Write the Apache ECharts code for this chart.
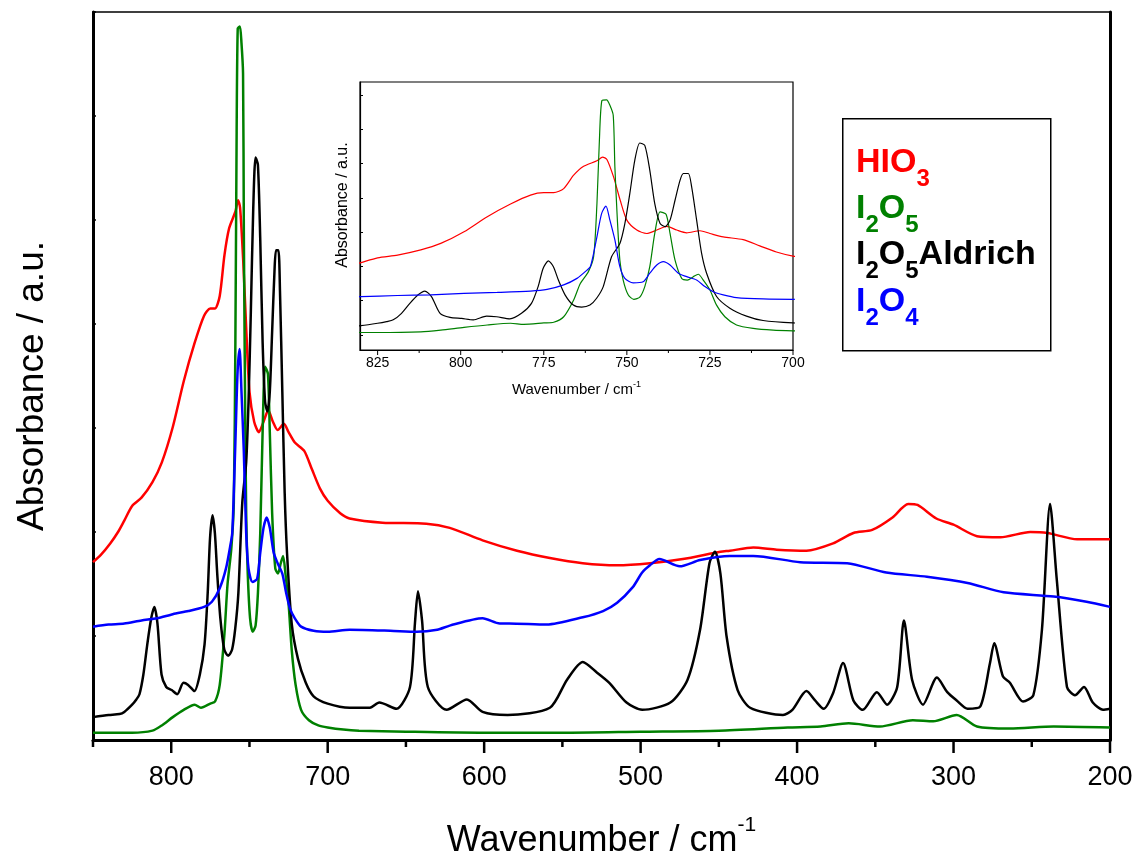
<!DOCTYPE html>
<html>
<head>
<meta charset="utf-8">
<title>IR spectra of iodine oxides</title>
<script src="https://cdn.jsdelivr.net/npm/echarts@6/dist/echarts.min.js"></script>
<style>
  html, body { margin: 0; padding: 0; background: #fff; }
  #spectra { width: 1138px; height: 861px; background: #fff; }
</style>
</head>
<body>
<div id="spectra"></div>
<script>
// wavenumber (cm-1) / absorbance (a.u.), one pair of arrays per sample
var hioWn = [850,845,839,834,830,825,819,812,806,799,792,785,779,775,772,769,766,763,759,757.3,756,754,752,750,747,744,741,738,735,732,728,725,721,715,710,705,700,692,686,665,637,622,601,579,558,537,515,494,473,449,443,428,413,394,377,364,352,339,329,323,311,300,285,270,251,240,221,200];
var hioAbs = [1.71,1.78,1.89,2.00,2.11,2.25,2.33,2.48,2.67,3.01,3.45,3.82,4.08,4.15,4.15,4.27,4.66,4.92,5.08,5.19,5.12,4.61,3.93,3.35,3.06,2.96,3.06,3.17,3.06,2.98,3.04,2.96,2.86,2.78,2.60,2.42,2.30,2.18,2.13,2.09,2.08,2.04,1.92,1.82,1.75,1.70,1.68,1.70,1.74,1.81,1.82,1.85,1.83,1.82,1.89,1.99,2.02,2.14,2.27,2.26,2.13,2.07,1.96,1.95,2.00,1.99,1.93,1.93];

var i2o5Wn = [850,830,825,812,806,799,792,785,781,775,772,769,766,764,761.6,760,759,758.3,757.5,756.1,755.1,754.1,753.6,752.9,752.1,751.1,749.6,747.9,746.1,744.6,743.1,741.6,740,738.2,737,735.5,733.5,731.8,730,728.5,727,725,723,720.5,717,712,706,700,690,680,650,600,550,500,450,406,385,367,347,326,313,298,285,264,236,200];
var i2o5Abs = [0.07,0.07,0.07,0.09,0.14,0.22,0.29,0.34,0.31,0.35,0.37,0.53,1.02,1.50,1.84,2.28,3.83,5.58,6.84,6.86,6.70,6.41,4.90,3.45,2.18,1.60,1.17,1.04,1.10,1.41,1.99,2.96,3.59,3.52,2.96,2.18,1.65,1.60,1.70,1.77,1.60,1.31,0.87,0.53,0.29,0.19,0.14,0.12,0.10,0.09,0.08,0.07,0.07,0.08,0.09,0.12,0.13,0.16,0.13,0.19,0.18,0.24,0.13,0.11,0.13,0.12];

var aldWn = [850,840,833,830,825,822.3,820.3,817.8,815.3,812.8,810.8,808.8,806.2,803.2,799.7,796.2,792.2,789.2,785.2,781.7,778.7,776.7,775.2,773.6,772.1,770.6,768.6,766.1,763.6,761.1,759.1,757.1,754.6,752.1,750.6,749.1,747.6,746.1,744.6,743.1,741.6,740,738.5,737,735.5,734,733,731.5,730.5,729,727.5,726,723,719,714,709,700,686,673,667,656,647.4,644.2,642.3,639.7,636,624,611,601,585,558,547,537,528,520,509,499,481,470,462,456,452.5,449,445,438,430,409,403,394,388.5,383,377,370.6,364,358,349,342.5,336,331.7,326.5,319.5,310.6,304,298,291,283,276.7,274,268.4,264,255.6,249,243.5,238.3,234,227.5,222.4,216.6,211,204.5,200];
var aldAbs = [0.22,0.24,0.25,0.27,0.34,0.39,0.44,0.63,0.92,1.17,1.28,1.12,0.63,0.51,0.48,0.44,0.55,0.53,0.47,0.63,0.92,1.41,1.94,2.16,1.99,1.60,1.17,0.87,0.81,0.87,1.07,1.41,2.28,2.67,3.25,4.13,5.10,5.60,5.53,4.81,3.83,3.25,3.16,3.35,3.93,4.51,4.71,4.71,4.32,3.35,2.38,1.80,1.12,0.78,0.55,0.42,0.35,0.31,0.31,0.36,0.30,0.51,1.13,1.43,1.15,0.51,0.29,0.39,0.27,0.24,0.31,0.58,0.75,0.65,0.55,0.36,0.29,0.36,0.58,1.06,1.70,1.81,1.60,0.99,0.48,0.31,0.24,0.29,0.47,0.38,0.30,0.45,0.74,0.38,0.29,0.46,0.34,0.51,1.15,0.58,0.34,0.60,0.46,0.38,0.30,0.32,0.74,0.93,0.61,0.55,0.37,0.43,1.06,2.27,1.54,0.51,0.43,0.51,0.36,0.29,0.30];

var i2o4Wn = [850,840,830,819,809,799,789,779,774,769,765,762,761,760,759,757.6,756.3,755.1,753.6,752.1,750.6,748.1,745.1,743.1,741,739,737,734.5,732,729,726.5,724,721,717,709,700,686,660,643,630,622,601,590,584,560,537,524,515,505,499,494,488,475,462,443,428,398,368,343,317,291,268,236,215,200];
var i2o4Abs = [1.09,1.11,1.12,1.15,1.17,1.21,1.24,1.28,1.33,1.46,1.65,1.89,1.99,2.38,2.86,3.54,3.76,3.35,2.77,1.99,1.65,1.52,1.55,1.80,2.04,2.14,2.04,1.80,1.70,1.60,1.41,1.26,1.17,1.09,1.05,1.04,1.06,1.05,1.04,1.06,1.10,1.17,1.12,1.12,1.11,1.18,1.24,1.32,1.47,1.61,1.68,1.74,1.67,1.73,1.77,1.77,1.71,1.70,1.61,1.57,1.51,1.42,1.38,1.33,1.28];

// tick positions
var mainMajor = [200,300,400,500,600,700,800];
var mainMinor = [250,350,450,550,650,750,850];
var insetMajor = [700,725,750,775,800,825];
var insetMinor = [712.5,737.5,762.5,787.5,812.5];
var insetYTicks = [0,1,2,3,4,5,6,7];

var FONT = '"Liberation Sans", Arial, sans-serif';
var MAIN_YMIN = 0, MAIN_YMAX = 7;
var INSET_YMIN = -0.44, INSET_YMAX = 7.38;

function pairs(wn, abs) {
    var out = [];
    for (var i = 0; i < wn.length; i++) {
        out.push([wn[i], abs[i]]);
    }
    return out;
}

var samples = [
    {name: 'HIO3', wn: hioWn, abs: hioAbs, color: '#ff0000'},
    {name: 'I2O5', wn: i2o5Wn, abs: i2o5Abs, color: '#008000'},
    {name: 'I2O5 Aldrich', wn: aldWn, abs: aldAbs, color: '#000000'},
    {name: 'I2O4', wn: i2o4Wn, abs: i2o4Abs, color: '#0000ff'}
];

var series = [];
samples.forEach(function (s) {
    var d = pairs(s.wn, s.abs);
    // main plot
    series.push({
        name: s.name, type: 'line', xAxisIndex: 0, yAxisIndex: 0,
        data: d, symbol: 'none', smooth: 0.25, silent: true, clip: true,
        lineStyle: {color: s.color, width: 2.5}
    });
    // inset, same data zoomed on 830-700
    series.push({
        name: s.name + ' inset', type: 'line', xAxisIndex: 1, yAxisIndex: 2,
        data: d, symbol: 'none', smooth: 0.25, silent: true, clip: true,
        lineStyle: {color: s.color, width: 1.2}
    });
});

// x-axis tick marks hanging below the axis line, placed through the axis scale;
// own layer so nothing can paint over them
function tickMarks(xi, yi, values, yBase, len, width) {
    return {
        type: 'custom', xAxisIndex: xi, yAxisIndex: yi, silent: true, clip: false,
        zlevel: 1, z: 10,
        data: values.map(function (v) { return [v, yBase]; }),
        renderItem: function (params, api) {
            var p = api.coord([api.value(0), api.value(1)]);
            return {
                type: 'line',
                shape: {x1: p[0], y1: p[1], x2: p[0], y2: p[1] + len},
                style: {stroke: '#000', lineWidth: width}
            };
        }
    };
}
series.push(tickMarks(0, 0, mainMajor, MAIN_YMIN, 13, 2.5));
series.push(tickMarks(0, 0, mainMinor, MAIN_YMIN, 7, 2.5));
series.push(tickMarks(1, 2, insetMajor, INSET_YMIN, 5, 1));
series.push(tickMarks(1, 2, insetMinor, INSET_YMIN, 3, 1));

var nameRich = function (big, small, pad) {
    return {
        m: {fontFamily: FONT, fontSize: big, lineHeight: big, color: '#000', verticalAlign: 'top', padding: [pad, 0, 0, 0]},
        s: {fontFamily: FONT, fontSize: small, lineHeight: small, color: '#000', verticalAlign: 'top'}
    };
};

var legendRich = function (color) {
    return {
        m: {fontFamily: FONT, fontSize: 34, fontWeight: 'bold', lineHeight: 34, color: color, verticalAlign: 'top'},
        s: {fontFamily: FONT, fontSize: 24, fontWeight: 'bold', lineHeight: 24, color: color, verticalAlign: 'top', padding: [21, 0, 0, 0]}
    };
};

var legendLines = [
    {text: '{m|HIO}{s|3}', color: '#ff0000', top: 146},
    {text: '{m|I}{s|2}{m|O}{s|5}', color: '#008000', top: 192},
    {text: '{m|I}{s|2}{m|O}{s|5}{m|Aldrich}', color: '#000000', top: 238},
    {text: '{m|I}{s|2}{m|O}{s|4}', color: '#0000ff', top: 285}
];

var myChart = echarts.init(document.getElementById('spectra'));

var option = {
    animation: false,
    title: legendLines.map(function (l) {
        return {left: 856, top: l.top, padding: 0, text: l.text, textStyle: {rich: legendRich(l.color)}};
    }),
    graphic: [{
        type: 'rect', left: 842, top: 118, z: 0,
        shape: {width: 208, height: 232},
        style: {fill: '#fff', stroke: '#000', lineWidth: 1.5}
    }],
    grid: [
        {left: 93, right: 28, top: 12, bottom: 121, show: true, borderColor: '#000', borderWidth: 1.5, outerBoundsMode: 'none'},
        {left: 360, top: 82, width: 433, height: 268, show: true, borderColor: '#000', borderWidth: 1.2, backgroundColor: '#fff', outerBoundsMode: 'none'}
    ],
    xAxis: [
        {
            gridIndex: 0, type: 'value', position: 'bottom', min: 200, max: 850, interval: 100, inverse: true,
            axisLine: {onZero: false, lineStyle: {color: '#000', width: 3}},
            axisTick: {show: false},
            axisLabel: {fontFamily: FONT, fontSize: 27, color: '#000', margin: 24, showMaxLabel: false},
            splitLine: {show: false},
            name: '{m|Wavenumber / cm}{s|-1}', nameLocation: 'middle', nameGap: 75,
            nameTextStyle: {rich: nameRich(36, 21, 8)}
        },
        {
            gridIndex: 1, type: 'value', position: 'bottom', min: 700, max: 830.3, interval: 25, inverse: true,
            axisLine: {onZero: false, lineStyle: {color: '#000', width: 1.2}},
            axisTick: {show: false},
            axisLabel: {fontFamily: FONT, fontSize: 14, color: '#000', margin: 6, showMaxLabel: false},
            splitLine: {show: false},
            name: '{m|Wavenumber / cm}{s|-1}', nameLocation: 'middle', nameGap: 30,
            nameTextStyle: {rich: nameRich(15, 9, 2)}
        }
    ],
    yAxis: [
        {
            gridIndex: 0, type: 'value', position: 'left', min: MAIN_YMIN, max: MAIN_YMAX, interval: 1,
            axisLine: {show: true, onZero: false, lineStyle: {color: '#000', width: 3}},
            axisTick: {show: true, inside: true, length: 3, lineStyle: {color: '#000', width: 1.5}},
            axisLabel: {show: false},
            splitLine: {show: false},
            name: 'Absorbance / a.u.', nameLocation: 'middle', nameGap: 42,
            nameTextStyle: {fontFamily: FONT, fontSize: 37, color: '#000', padding: [0, 20, 0, 0]}
        },
        {
            gridIndex: 0, type: 'value', position: 'right', min: MAIN_YMIN, max: MAIN_YMAX,
            axisLine: {show: true, onZero: false, lineStyle: {color: '#000', width: 3}},
            axisTick: {show: false},
            axisLabel: {show: false},
            splitLine: {show: false}
        },
        {
            gridIndex: 1, type: 'value', position: 'left', min: INSET_YMIN, max: INSET_YMAX,
            axisLine: {show: true, onZero: false, lineStyle: {color: '#000', width: 1.2}},
            axisTick: {show: true, inside: true, customValues: insetYTicks, length: 3, lineStyle: {color: '#000', width: 1}},
            axisLabel: {show: false},
            splitLine: {show: false},
            name: 'Absorbance / a.u.', nameLocation: 'middle', nameGap: 9,
            nameTextStyle: {fontFamily: FONT, fontSize: 16, color: '#000', padding: [0, 0, 0, 22]}
        }
    ],
    series: series
};

myChart.setOption(option);
</script>
</body>
</html>
